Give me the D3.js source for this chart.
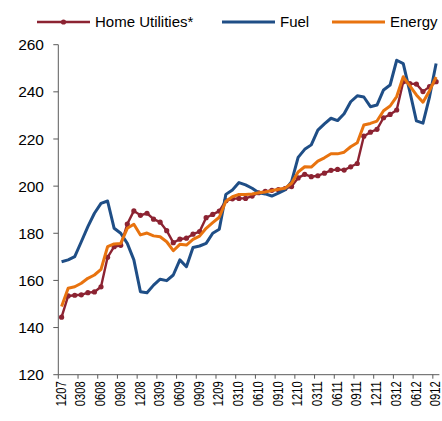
<!DOCTYPE html>
<html>
<head>
<meta charset="utf-8">
<script src="https://cdn.jsdelivr.net/npm/d3@7"></script>
<style>
  body { margin: 0; background: #fff; }
  svg { display: block; font-family: "Liberation Sans", Arial, sans-serif; }
</style>
</head>
<body>
<div id="graphicContainer"></div>
<script>
// monthly, Dec 2007 to Sep 2012 (MMYY)
var months = []
var startYear = 7
for (var k = 0; k < 58; k++) {
  var m = (11 + k) % 12 + 1
  var yr = startYear + Math.floor((11 + k) / 12)
  months.push(String(m).padStart(2, "0") + String(yr).padStart(2, "0"))
}

var homeUtilities = [144.4, 153.4, 153.7, 153.9, 154.8, 155.1, 157.3, 169.8, 174.3, 174.9,
  183.9, 189.5, 187.6, 188.5, 186.0, 184.7, 181.1, 176.0, 177.5, 177.9,
  179.6, 180.7, 186.6, 188.0, 189.4, 193.8, 194.6, 194.8, 194.8, 195.8,
  197.2, 197.8, 198.2, 198.5, 199.0, 199.8, 203.5, 205.0, 204.0, 204.4,
  205.5, 206.7, 207.1, 206.8, 208.2, 209.6, 221.2, 222.9, 224.1, 229.0,
  230.4, 232.3, 244.3, 243.5, 243.3, 240.1, 242.2, 244.3]

var fuel = [167.9, 168.7, 170.1, 176.4, 182.8, 188.5, 192.7, 193.7, 182.1, 180.0,
  175.7, 168.7, 155.2, 154.8, 158.0, 160.5, 159.9, 162.3, 168.7, 165.8,
  174.0, 174.6, 175.7, 180.0, 181.7, 196.5, 198.4, 201.5, 200.5, 199.1,
  197.2, 196.7, 195.8, 197.0, 198.4, 201.9, 212.2, 215.6, 217.5, 223.8,
  226.4, 228.8, 227.8, 230.7, 235.8, 238.3, 237.8, 233.7, 234.4, 240.8,
  242.9, 253.4, 252.0, 240.1, 227.7, 226.7, 237.9, 252.0]

var energy = [148.9, 156.7, 157.3, 158.8, 160.9, 162.3, 164.7, 174.3, 175.5, 175.7,
  182.1, 183.8, 179.3, 180.1, 178.9, 178.5, 176.4, 172.6, 175.3, 175.0,
  177.4, 178.8, 182.1, 184.5, 186.8, 193.6, 195.5, 196.5, 196.4, 196.7,
  197.2, 197.5, 198.1, 198.7, 199.1, 201.2, 206.0, 208.2, 208.1, 210.6,
  212.0, 213.7, 213.7, 214.4, 216.7, 218.4, 225.9, 226.6, 227.6, 232.0,
  234.0, 238.0, 246.4, 242.5, 238.7, 235.6, 240.5, 246.3]

var yTicks = [120, 140, 160, 180, 200, 220, 240, 260]

var series = [
  { key: "Home Utilities*", values: homeUtilities, colour: "#8c2332", width: 2.4, marker: true },
  { key: "Fuel", values: fuel, colour: "#1f4e86", width: 3, marker: false },
  { key: "Energy", values: energy, colour: "#e8730f", width: 3, marker: false }
]

var width = 442, height = 421
var margin = { top: 44.7, right: 2.6, bottom: 46.3, left: 58.3 }

var svg = d3.select("#graphicContainer").append("svg")
  .attr("width", width)
  .attr("height", height)

var x = d3.scaleBand()
  .domain(months)
  .range([margin.left, width - margin.right])

var y = d3.scaleLinear()
  .domain([120, 260])
  .range([height - margin.bottom, margin.top])

var cx = d => x(d) + x.bandwidth() / 2

var axisColour = "#5a5a5a"

// y axis
var yAxis = svg.append("g")
yAxis.append("line")
  .attr("x1", margin.left).attr("x2", margin.left)
  .attr("y1", y(120)).attr("y2", y(260))
  .attr("stroke", axisColour)
yAxis.selectAll("line.tick")
  .data(yTicks)
  .enter().append("line")
  .attr("class", "tick")
  .attr("x1", margin.left - 5).attr("x2", margin.left)
  .attr("y1", d => y(d)).attr("y2", d => y(d))
  .attr("stroke", axisColour)
yAxis.selectAll("text")
  .data(yTicks)
  .enter().append("text")
  .attr("x", 44)
  .attr("y", d => y(d))
  .attr("dy", "0.36em")
  .attr("text-anchor", "end")
  .attr("font-size", "15.5px")
  .attr("fill", "#000")
  .text(d => d)

// x axis
var xLabels = months.filter((d, i) => i % 3 == 0)
var xAxis = svg.append("g")
xAxis.append("line")
  .attr("x1", margin.left).attr("x2", width - margin.right)
  .attr("y1", y(120)).attr("y2", y(120))
  .attr("stroke", axisColour)
xAxis.selectAll("line.tick")
  .data(xLabels)
  .enter().append("line")
  .attr("class", "tick")
  .attr("x1", d => x(d)).attr("x2", d => x(d))
  .attr("y1", y(120)).attr("y2", y(120) + 4)
  .attr("stroke", axisColour)
xAxis.selectAll("text")
  .data(xLabels)
  .enter().append("text")
  .attr("transform", d => `translate(${cx(d) - 0.5},${y(120) + 6.5}) rotate(-90)`)
  .attr("dy", "0.33em")
  .attr("text-anchor", "end")
  .attr("font-size", "14px")
  .attr("textLength", 25)
  .attr("lengthAdjust", "spacingAndGlyphs")
  .attr("fill", "#000")
  .text(d => d)

// lines
var line = d3.line()
  .x((d, i) => cx(months[i]))
  .y(d => y(d))

series.forEach(s => {
  svg.append("path")
    .datum(s.values)
    .attr("fill", "none")
    .attr("stroke", s.colour)
    .attr("stroke-width", s.width)
    .attr("stroke-linejoin", "round")
    .attr("d", line)

  if (s.marker) {
    svg.append("g")
      .selectAll("circle")
      .data(s.values)
      .enter().append("circle")
      .attr("cx", (d, i) => cx(months[i]))
      .attr("cy", d => y(d))
      .attr("r", 2.6)
      .attr("fill", s.colour)
  }
})

// legend
var legendX = [37, 222, 332]
var legend = svg.append("g")
series.forEach((s, i) => {
  var g = legend.append("g").attr("transform", `translate(${legendX[i]},22)`)
  g.append("line")
    .attr("x1", 0).attr("x2", 53)
    .attr("y1", 0).attr("y2", 0)
    .attr("stroke", s.colour)
    .attr("stroke-width", s.width)
  if (s.marker) {
    g.append("circle").attr("cx", 26.5).attr("cy", 0).attr("r", 2.6).attr("fill", s.colour)
  }
  g.append("text")
    .attr("x", 58)
    .attr("y", 0)
    .attr("dy", "0.36em")
    .attr("font-size", "15px")
    .attr("fill", "#000")
    .text(s.key)
})
</script>
</body>
</html>
